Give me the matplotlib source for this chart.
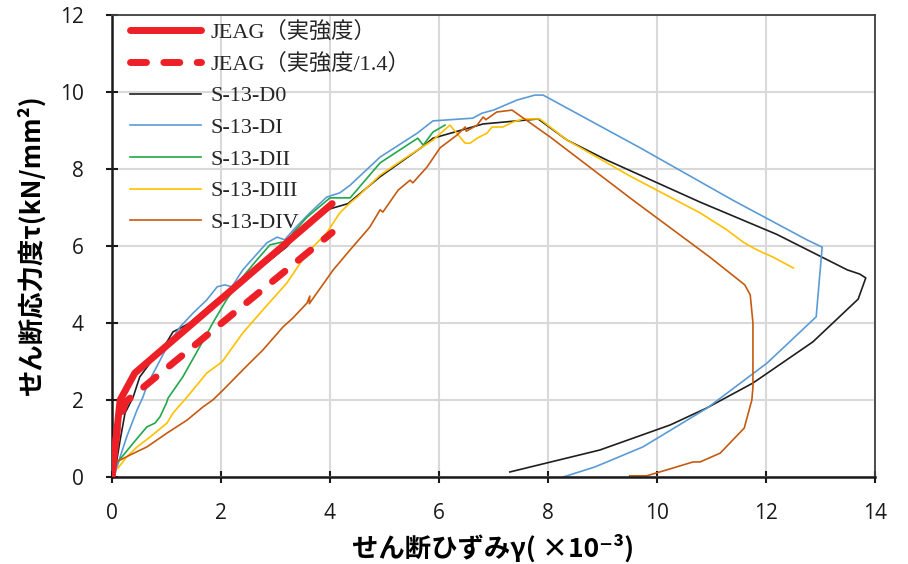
import matplotlib
matplotlib.use("Agg")
import matplotlib.pyplot as plt

# JEAG design curves
jeag_x = [0.0, 0.15, 0.42, 4.04]
jeag_y = [0.0, 2.0, 2.7, 7.1]
jeag14_x = [0.0, 0.1, 0.25, 4.04]
jeag14_y = [0.0, 1.3, 1.95, 6.35]

# measured shear stress - strain
d0_x = [0.0, 0.05, 0.15, 0.24, 0.39, 0.51, 0.70, 0.92, 1.12, 1.19, 1.43, 1.85, 2.48, 2.90, 3.20,
        3.58, 3.94, 4.33, 4.92, 5.69, 5.89, 6.81, 7.82, 8.35, 9.08, 10.79, 12.2, 13.49, 13.72,
        13.83, 13.69, 12.86, 11.76, 10.91, 10.24, 8.95, 7.3]
d0_y = [0.0, 0.1, 0.96, 1.66, 2.08, 2.6, 2.96, 3.3, 3.77, 3.82, 4.0, 4.52, 5.2, 5.64, 5.97,
        6.6, 6.94, 7.1, 7.8, 8.57, 8.8, 9.17, 9.3, 8.75, 8.23, 7.14, 6.3, 5.38, 5.27,
        5.17, 4.62, 3.51, 2.44, 1.79, 1.35, 0.7, 0.13]

di_x = [0.0, 0.05, 0.15, 0.27, 0.46, 0.57, 0.66, 0.79, 1.01, 1.25, 1.49, 1.74, 1.93, 2.07, 2.2,
        2.4, 2.84, 3.03, 3.17, 3.33, 3.63, 3.94, 4.18, 4.37, 4.92, 5.6, 5.89, 6.62, 6.79, 7.0,
        7.43, 7.76, 7.91, 9.69, 11.39, 12.75, 13.03, 12.92, 12.02, 10.92, 9.74, 8.86, 8.28]
di_y = [0.0, 0.05, 0.52, 1.04, 1.74, 2.08, 2.44, 2.78, 3.38, 3.9, 4.26, 4.6, 4.94, 4.99, 4.94,
        5.38, 6.08, 6.23, 6.16, 6.42, 6.86, 7.27, 7.38, 7.58, 8.31, 8.93, 9.25, 9.32, 9.45, 9.53,
        9.79, 9.92, 9.92, 8.55, 7.19, 6.16, 5.97, 4.16, 2.96, 1.79, 0.78, 0.26, 0.0]

dii_x = [0.0, 0.02, 0.09, 0.39, 0.64, 0.79, 0.88, 1.0, 1.03, 1.3, 1.61, 1.85, 2.1, 2.4, 2.66,
         2.9, 3.12, 3.21, 3.32, 3.58, 4.0, 4.37, 4.92, 5.61, 5.71, 5.89, 6.11]
dii_y = [0.0, 0.05, 0.36, 0.88, 1.3, 1.4, 1.56, 1.92, 2.05, 2.6, 3.38, 4.0, 4.6, 5.2, 5.64,
         6.03, 6.1, 6.08, 6.34, 6.75, 7.25, 7.25, 8.16, 8.8, 8.62, 8.96, 9.14]

diii_x = [0.11, 0.27, 0.46, 0.7, 1.01, 1.12, 1.38, 1.74, 2.02, 2.4, 2.77, 3.21, 3.58, 3.94, 4.18,
          4.37, 4.5, 4.92, 5.41, 5.89, 6.2, 6.48, 6.57, 6.7, 6.88, 6.97, 7.17, 7.36, 7.54, 7.85,
          8.35, 9.5, 10.79, 11.28, 11.58, 11.83, 12.13, 12.5]
diii_y = [0.23, 0.52, 0.78, 1.04, 1.4, 1.66, 2.08, 2.7, 2.99, 3.74, 4.34, 5.04, 5.82, 6.34, 6.86,
          7.12, 7.27, 7.84, 8.31, 8.75, 9.14, 8.67, 8.67, 8.8, 8.93, 9.09, 9.09, 9.22, 9.3, 9.3,
          8.75, 7.82, 6.86, 6.42, 6.1, 5.9, 5.71, 5.43]

div_x = [0.02, 0.15, 0.33, 0.64, 1.01, 1.38, 1.67, 1.85, 2.04, 2.4, 2.77, 3.14, 3.32, 3.58, 3.63,
         3.62, 4.06, 4.37, 4.73, 4.92, 4.97, 5.25, 5.47, 5.52, 5.78, 6.02, 6.33, 6.48, 6.5, 6.7,
         6.81, 6.86, 7.06, 7.34, 8.04, 9.56, 10.97, 11.61, 11.71, 11.76, 11.76, 11.74, 11.6,
         11.16, 10.79, 10.66, 10.24, 9.81, 9.5]
div_y = [0.39, 0.44, 0.57, 0.78, 1.14, 1.48, 1.82, 2.0, 2.26, 2.78, 3.3, 3.9, 4.13, 4.52, 4.7,
         4.5, 5.38, 5.9, 6.49, 6.94, 6.88, 7.45, 7.71, 7.64, 8.05, 8.55, 8.88, 9.09, 8.98, 9.14,
         9.35, 9.28, 9.48, 9.53, 8.83, 7.19, 5.71, 4.99, 4.73, 4.0, 2.34, 2.0, 1.27,
         0.62, 0.39, 0.39, 0.21, 0.03, 0.03]

serif = ["Liberation Serif", "Noto Sans CJK JP"]
sans = ["Noto Sans CJK JP", "DejaVu Sans"]

fig = plt.figure(figsize=(9.08, 5.64), dpi=100)
ax = fig.add_axes([0.1233, 0.1543, 0.8404, 0.8191])

red = "#ee2027"
ax.plot(jeag_x, jeag_y, color=red, lw=5, solid_capstyle="round", label="JEAG（実強度）", zorder=3)
ax.plot(jeag14_x, jeag14_y, color=red, lw=5, ls=(0, (2.3, 2.5)), dash_capstyle="round",
        label="JEAG（実強度/1.4）", zorder=3)
ax.plot(d0_x, d0_y, color="#1f1f1f", lw=1.2, label="S-13-D0")
ax.plot(di_x, di_y, color="#5b9bd5", lw=1.2, label="S-13-DI")
ax.plot(dii_x, dii_y, color="#22a84a", lw=1.2, label="S-13-DII")
ax.plot(diii_x, diii_y, color="#ffc000", lw=1.2, label="S-13-DIII")
ax.plot(div_x, div_y, color="#c55a11", lw=1.2, label="S-13-DIV")

ax.set_xlim(0, 14)
ax.set_ylim(0, 12)
ax.set_xticks(range(0, 15, 2))
ax.set_yticks(range(0, 13, 2))
ax.grid(True, color="#d9d9d9", lw=1.5)
ax.set_axisbelow(True)

for side in ("left", "bottom"):
    ax.spines[side].set_linewidth(1.8)
    ax.spines[side].set_color("#1a1a1a")
for side in ("top", "right"):
    ax.spines[side].set_linewidth(1.3)
    ax.spines[side].set_color("#404040")

ax.tick_params(direction="inout", length=9, width=1.5, color="#1a1a1a")
ax.tick_params(axis="x", pad=14)
ax.tick_params(axis="y", pad=16)
for lab in ax.get_xticklabels() + ax.get_yticklabels():
    lab.set_family("Open Sans")
    lab.set_fontsize(15)
    lab.set_color("#1a1a1a")

ax.set_xlabel("せん断ひずみγ( ×10⁻³)", family=sans, fontsize=19, fontweight="bold", labelpad=8)
ax.set_ylabel("せん断応力度τ(kN/mm²)", family=sans, fontsize=19, fontweight="bold", labelpad=10)

leg = ax.legend(loc="upper left", frameon=False, prop={"family": serif, "size": 16},
                handlelength=3.2, handletextpad=0.4, labelspacing=0.5,
                borderaxespad=0.0, bbox_to_anchor=(0.012, 1.006))
for t in leg.get_texts():
    t.set_color("#262626")

fig.savefig("out.png", dpi=100)
